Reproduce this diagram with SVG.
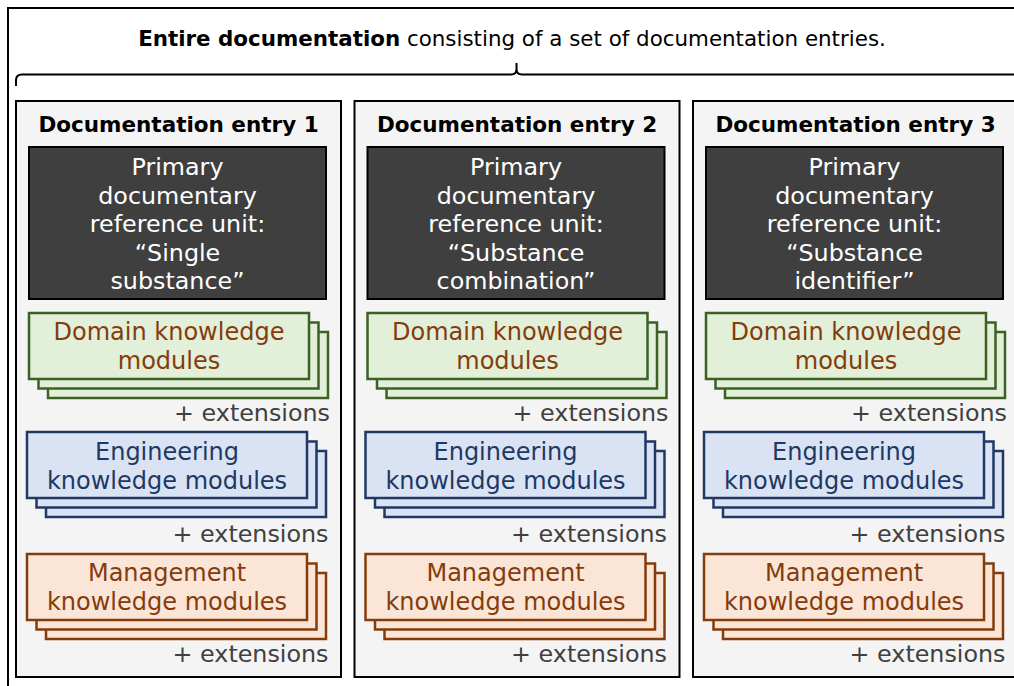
<svg xmlns="http://www.w3.org/2000/svg" width="1014" height="686" viewBox="0 0 1014 686">
<style>
text{font-family:"DejaVu Sans","Liberation Sans",sans-serif;}
.frame{fill:#ffffff;stroke:#000;stroke-width:2;}
.entry{fill:#f4f4f4;stroke:#000;stroke-width:2;}
.etitle{font-weight:bold;font-size:21.5px;fill:#000;text-anchor:middle;}
.dark{fill:#3f3f3f;stroke:#000;stroke-width:2;}
.dtext{font-size:23.8px;fill:#fff;text-anchor:middle;}
.dom{fill:#e2efd9;stroke:#3b6125;stroke-width:2.5;}
.domt{font-size:24px;fill:#843c0c;text-anchor:middle;}
.eng{fill:#dae3f3;stroke:#203864;stroke-width:2.5;}
.engt{font-size:24px;fill:#203864;text-anchor:middle;}
.man{fill:#fbe5d6;stroke:#843c0c;stroke-width:2.5;}
.mant{font-size:24px;fill:#843c0c;text-anchor:middle;}
.ext{font-size:23.8px;fill:#404040;text-anchor:end;}
.brace{fill:none;stroke:#000;stroke-width:2;}
</style>
<defs>
<g id="stackDom">
<rect class="dom" x="48" y="332" width="280" height="66"/>
<rect class="dom" x="38.5" y="322.5" width="280" height="66"/>
<rect class="dom" x="29" y="313" width="280" height="66"/>
</g>
<g id="stackEng">
<rect class="eng" x="46" y="451" width="280" height="66"/>
<rect class="eng" x="36.5" y="441.5" width="280" height="66"/>
<rect class="eng" x="27" y="432" width="280" height="66"/>
</g>
<g id="stackMan">
<rect class="man" x="46" y="573" width="280" height="66"/>
<rect class="man" x="36.5" y="563.5" width="280" height="66"/>
<rect class="man" x="27" y="554" width="280" height="66"/>
</g>
</defs>
<rect width="1014" height="686" fill="#ffffff"/>
<g id="whole">
<rect class="frame" x="8" y="8" width="1030" height="700"/>
<text x="512" y="46" font-size="21.4" text-anchor="middle" fill="#000"><tspan font-weight="bold">Entire documentation</tspan> consisting of a set of documentation entries.</text>
<path class="brace" d="M16,86 L16,80 Q16,74.5 22,74.5 L511,74.5 Q516.5,74.5 516.5,69 L516.5,63 L516.5,69 Q516.5,74.5 522,74.5 L1030,74.5"/>
</g>
<g id="connectors"></g>
<g id="entry1">
<rect class="entry" x="16" y="101" width="325" height="576"/>
<text class="etitle" x="178.5" y="132">Documentation entry 1</text>
<g id="pdru1">
<rect class="dark" x="29" y="147" width="297" height="152"/>
<text class="dtext"><tspan x="177.5" y="175">Primary</tspan><tspan x="177.5" y="203.5">documentary</tspan><tspan x="177.5" y="232">reference unit:</tspan><tspan x="177.5" y="260.5">“Single</tspan><tspan x="177.5" y="289">substance”</tspan></text>
</g>
<g id="dom1">
<use href="#stackDom"/>
<text class="domt"><tspan x="169" y="340">Domain knowledge</tspan><tspan x="169" y="368.5">modules</tspan></text>
<text class="ext" x="330" y="421">+ extensions</text>
</g>
<g id="eng1">
<use href="#stackEng"/>
<text class="engt"><tspan x="167" y="460">Engineering</tspan><tspan x="167" y="488.5">knowledge modules</tspan></text>
<text class="ext" x="328.5" y="542">+ extensions</text>
</g>
<g id="man1">
<use href="#stackMan"/>
<text class="mant"><tspan x="167" y="581">Management</tspan><tspan x="167" y="609.5">knowledge modules</tspan></text>
<text class="ext" x="328.5" y="662">+ extensions</text>
</g>
</g>
<g id="entry2" transform="translate(338.5,0)">
<rect class="entry" x="16" y="101" width="325" height="576"/>
<text class="etitle" x="178.5" y="132">Documentation entry 2</text>
<g id="pdru2">
<rect class="dark" x="29" y="147" width="297" height="152"/>
<text class="dtext"><tspan x="177.5" y="175">Primary</tspan><tspan x="177.5" y="203.5">documentary</tspan><tspan x="177.5" y="232">reference unit:</tspan><tspan x="177.5" y="260.5">“Substance</tspan><tspan x="177.5" y="289">combination”</tspan></text>
</g>
<g id="dom2">
<use href="#stackDom"/>
<text class="domt"><tspan x="169" y="340">Domain knowledge</tspan><tspan x="169" y="368.5">modules</tspan></text>
<text class="ext" x="330" y="421">+ extensions</text>
</g>
<g id="eng2">
<use href="#stackEng"/>
<text class="engt"><tspan x="167" y="460">Engineering</tspan><tspan x="167" y="488.5">knowledge modules</tspan></text>
<text class="ext" x="328.5" y="542">+ extensions</text>
</g>
<g id="man2">
<use href="#stackMan"/>
<text class="mant"><tspan x="167" y="581">Management</tspan><tspan x="167" y="609.5">knowledge modules</tspan></text>
<text class="ext" x="328.5" y="662">+ extensions</text>
</g>
</g>
<g id="entry3" transform="translate(677,0)">
<rect class="entry" x="16" y="101" width="325" height="576"/>
<text class="etitle" x="178.5" y="132">Documentation entry 3</text>
<g id="pdru3">
<rect class="dark" x="29" y="147" width="297" height="152"/>
<text class="dtext"><tspan x="177.5" y="175">Primary</tspan><tspan x="177.5" y="203.5">documentary</tspan><tspan x="177.5" y="232">reference unit:</tspan><tspan x="177.5" y="260.5">“Substance</tspan><tspan x="177.5" y="289">identifier”</tspan></text>
</g>
<g id="dom3">
<use href="#stackDom"/>
<text class="domt"><tspan x="169" y="340">Domain knowledge</tspan><tspan x="169" y="368.5">modules</tspan></text>
<text class="ext" x="330" y="421">+ extensions</text>
</g>
<g id="eng3">
<use href="#stackEng"/>
<text class="engt"><tspan x="167" y="460">Engineering</tspan><tspan x="167" y="488.5">knowledge modules</tspan></text>
<text class="ext" x="328.5" y="542">+ extensions</text>
</g>
<g id="man3">
<use href="#stackMan"/>
<text class="mant"><tspan x="167" y="581">Management</tspan><tspan x="167" y="609.5">knowledge modules</tspan></text>
<text class="ext" x="328.5" y="662">+ extensions</text>
</g>
</g>
</svg>
